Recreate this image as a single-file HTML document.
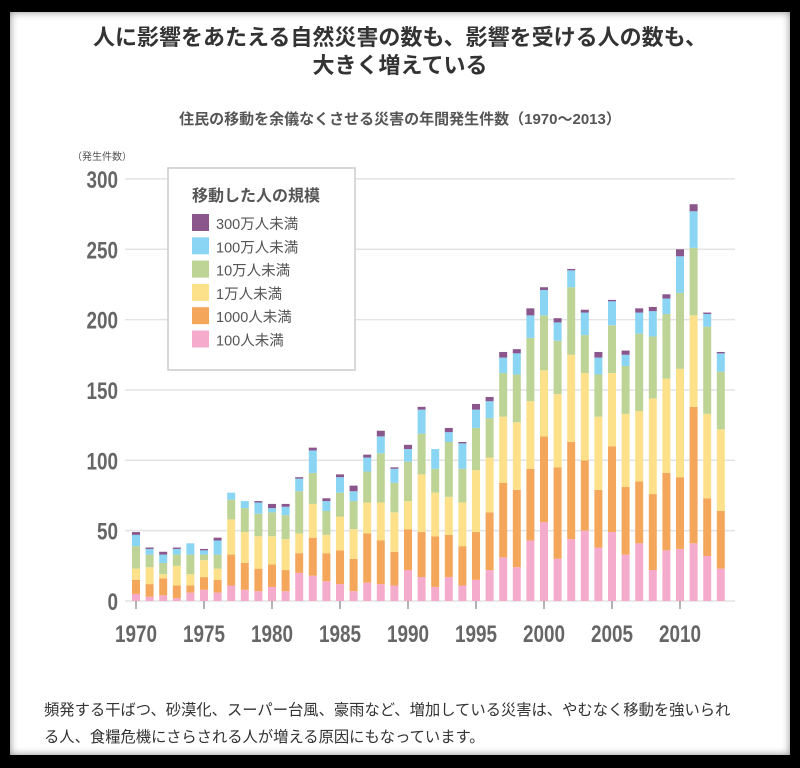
<!DOCTYPE html>
<html><head><meta charset="utf-8"><style>
body{margin:0;width:800px;height:768px;background:#000;overflow:hidden;font-family:"Liberation Sans","Noto Sans CJK JP",sans-serif;}
#panel{position:absolute;left:10px;top:12px;width:780px;height:743px;background:#fff;box-shadow:0 0 8px #888 inset;}
.t{position:absolute;left:0;width:800px;text-align:center;color:#333;}
</style></head><body>
<div id="panel"></div>
<div class="t" style="top:24px;font-size:22px;line-height:28px;font-weight:bold;">人に影響をあたえる自然災害の数も、影響を受ける人の数も、<br>大きく増えている</div>
<div class="t" style="top:108px;font-size:15px;font-weight:bold;color:#555;">住民の移動を余儀なくさせる災害の年間発生件数（1970〜2013）</div>
<div style="position:absolute;left:44px;top:697px;width:740px;font-size:15.3px;line-height:27px;color:#333;white-space:nowrap;">頻発する干ばつ、砂漠化、スーパー台風、豪雨など、増加している災害は、やむなく移動を強いられ<br>る人、食糧危機にさらされる人が増える原因にもなっています。</div>
<svg id="chart" width="800" height="768" style="position:absolute;left:0;top:0;"></svg>
<script>
const years=[];for(let y=1970;y<=2013;y++)years.push(y);
const pink=[5,3,4,2,6,8,6,11,8,7,10,7,20,18,14,12,7,13,12,11,22,17,10,17,11,15,22,31,24,43,56,30,44,50,38,49,33,41,22,36,37,41,32,23];
const orange=[10,9,12,9,5,9,9,22,19,16,16,15,14,27,20,24,23,35,31,24,29,32,36,30,28,34,41,53,55,51,61,65,69,50,41,61,48,44,54,55,51,97,41,41];
const yellow=[8,12,3,14,8,12,8,25,22,23,20,22,14,24,13,24,21,22,27,28,20,41,31,27,31,44,39,47,48,48,47,52,62,62,52,52,52,50,68,67,77,65,60,58];
const green=[16,9,8,8,14,4,10,14,17,16,17,17,30,22,17,17,20,22,35,21,28,29,17,39,24,30,28,31,34,45,39,38,48,27,30,34,34,55,44,46,54,48,62,41];
const blue=[8,4,6,4,8,3,10,5,5,8,3,6,9,16,7,11,7,10,12,10,9,17,14,7,18,13,12,11,15,16,18,13,12,16,12,17,8,15,18,11,26,26,9,13];
const purple=[2,1,2,1,0,1,2,0,0,1,3,2,1,2,2,2,4,2,4,1,3,2,0,3,1,4,3,4,3,5,2,3,1,2,4,1,3,3,3,3,5,5,1,1];
const yTicks=[0,50,100,150,200,250,300];
const xTickYears=[1970,1975,1980,1985,1990,1995,2000,2005,2010];
const legendLabels=["300万人未満","100万人未満","10万人未満","1万人未満","1000人未満","100人未満"];
const series=[pink,orange,yellow,green,blue,purple];
const names=['under-100','under-1000','under-10k','under-100k','under-1m','under-3m'];
const colors=['#f5abcc','#f4a75b','#fde18a','#bdd496','#8bd5f4','#8a568b'];
const NS='http://www.w3.org/2000/svg';
const svg=document.getElementById('chart');
const yS=v=>601-v*1.407;
const xS=y=>136+(y-1970)*13.6;
function mk(t,a){const e=document.createElementNS(NS,t);for(const k in a)e.setAttribute(k,a[k]);svg.appendChild(e);return e;}
yTicks.forEach(v=>{
 const l=mk('line',{x1:125,x2:735,y1:yS(v),y2:yS(v),stroke:'#e3e3e3','stroke-width':1.5});
 
 
 const t=mk('text',{x:118,y:yS(v)+9,'text-anchor':'end','font-size':24,'font-weight':'bold',fill:'#666','font-family':'Liberation Sans, sans-serif'});
 t.setAttribute('textLength',String(v).length*10.5);t.setAttribute('lengthAdjust','spacingAndGlyphs');
 
 
 t.textContent=v;
});
const yt=mk('text',{x:72,y:160,'font-size':10,fill:'#555'});


yt.textContent='（発生件数）';
years.forEach((yr,i)=>{
 let c=0;
 series.forEach((s,k)=>{
  const v=s[i];if(v<=0){return;}
  const r=mk('rect',{x:xS(yr)-4,y:yS(c+v),width:8,height:v*1.407,fill:colors[k]});
  
  
  c+=v;
 });
});
xTickYears.forEach(yr=>{
 const l=mk('line',{x1:xS(yr),x2:xS(yr),y1:601,y2:609,stroke:'#999','stroke-width':1.5});
 
 
 const t=mk('text',{x:xS(yr),y:642,'text-anchor':'middle','font-size':24,'font-weight':'bold',fill:'#666',textLength:42,lengthAdjust:'spacingAndGlyphs','font-family':'Liberation Sans, sans-serif'});
 
 
 t.textContent=yr;
});
const lb=mk('rect',{x:168,y:168,width:187,height:202,fill:'#fff',stroke:'#ccc','stroke-width':1.5});


const lt=mk('text',{x:192,y:201,'font-size':16,'font-weight':'bold',fill:'#555'});


lt.textContent='移動した人の規模';
legendLabels.forEach((lab,j)=>{
 const k=5-j;
 const sw=mk('rect',{x:192,y:214+j*23.3,width:17,height:17,fill:colors[k]});
 
 
 const t=mk('text',{x:216,y:229+j*23.3,'font-size':14.5,fill:'#555'});
 
 
 t.textContent=lab;
});
</script>
</body></html>
